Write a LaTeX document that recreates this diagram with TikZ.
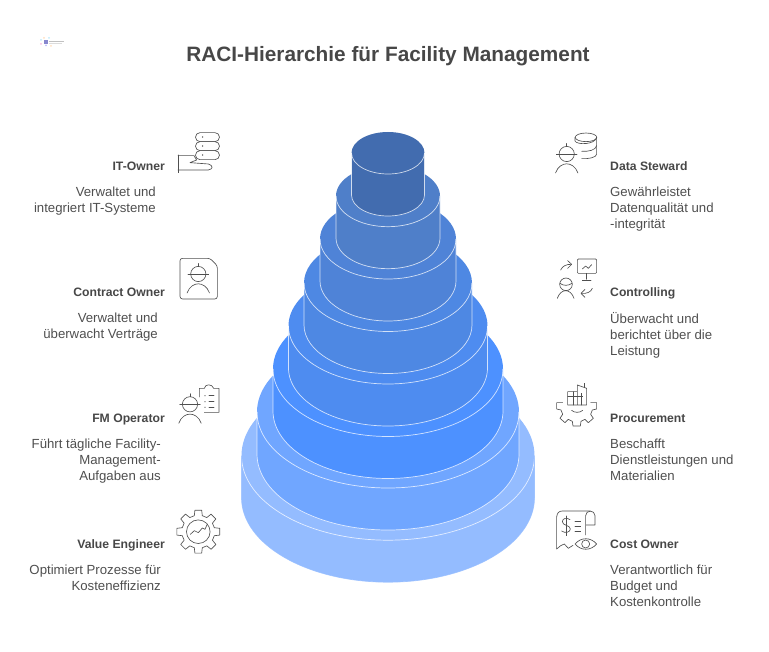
\documentclass[tikz,border=0pt]{standalone}
\usepackage{fontspec}
\setmainfont{Liberation Sans}
\usetikzlibrary{positioning}
\definecolor{tierA}{HTML}{94BCFF}
\definecolor{tierB}{HTML}{70A6FF}
\definecolor{tierC}{HTML}{4D91FF}
\definecolor{tierD}{HTML}{4E8CF0}
\definecolor{tierE}{HTML}{4E88E3}
\definecolor{tierF}{HTML}{4F83D7}
\definecolor{tierG}{HTML}{4F7FC9}
\definecolor{tierH}{HTML}{426CAF}
\definecolor{inkdark}{HTML}{474747}
\definecolor{inktext}{HTML}{4F4F4F}
\tikzset{
    roletitle/.style={anchor=east, inner sep=0pt, text height=10pt, text depth=3pt, font=\fontsize{12.2}{16}\selectfont\bfseries, text=inkdark},
    roletitleR/.style={roletitle, anchor=west},
    roletext/.style={anchor=north east, inner sep=0pt, align=right, font=\fontsize{13.2}{16}\selectfont, text=inktext},
    roletextR/.style={roletext, anchor=north west, align=left},
    iconline/.style={draw=inktext, line width=0.65pt, line join=round, line cap=round},
    iconbox/.style={shift={#1}, x=0.3333pt, y=-0.3333pt},
    hatworker/.pic={
        \draw[iconline] (0,0) circle (7.6);
        \draw[iconline] (-10.3,0) -- (10.3,0);
        \draw[iconline] (0,-10.5) -- (0,-7.6);
        \draw[iconline] (-11.2,19) .. controls (-9,12.5) and (-4,9.8) .. (0,9.8) .. controls (4,9.8) and (9,12.5) .. (11.2,19);
    }
}
\begin{document}
\begin{tikzpicture}[x=1pt, y=-1pt]
    \useasboundingbox (0,0) rectangle (769,652);

    % Stacked cylinders, widest first
    \foreach \rx/\cy/\ry/\tiercol/\wallcol in {
        146.5/455.7/84.5/tierA/tierA, 131/412/76/tierB/white, 115/369/67.5/tierC/white,
        99.5/326/58/tierD/white, 84/283/48.5/tierE/white, 68/239/40/tierF/white,
        52/196/30.7/tierG/white, 36.5/153/21/tierH/white} {
        \path[fill=\tiercol] ({388-\rx},\cy) -- ++(0,42) arc[start angle=180, end angle=360, x radius=\rx pt, y radius=\ry pt] -- ++(0,-42) -- cycle;
        \path[fill=\tiercol] (388,\cy) ellipse[x radius=\rx pt, y radius=\ry pt];
        \draw[white, opacity=0.75, line width=0.7pt] ({388-\rx},\cy) arc[start angle=180, end angle=360, x radius=\rx pt, y radius=\ry pt];
        \draw[\wallcol, opacity=0.75, line width=0.7pt] ({388-\rx},\cy) -- ++(0,42) arc[start angle=180, end angle=360, x radius=\rx pt, y radius=\ry pt] -- ++(0,-42);
    }

    % Title
    \node[inner sep=0pt, text=inkdark, font=\fontsize{20.8}{26}\selectfont\bfseries] (title) at (388,56.5) {RACI-Hierarchie für Facility Management};

    % Left column
    \node[roletitle] (itowner) at (165,167) {IT-Owner};
    \node[roletext] (itownertext) at (156,186.5) {Verwaltet und\\integriert IT-Systeme};
    \node[roletitle] (contract) at (165,293) {Contract Owner};
    \node[roletext] (contracttext) at (158,312.5) {Verwaltet und\\überwacht Verträge};
    \node[roletitle] (operator) at (165,419) {FM Operator};
    \node[roletext] (operatortext) at (161,438.5) {Führt tägliche Facility-\\Management-\\Aufgaben aus};
    \node[roletitle] (engineer) at (165,545) {Value Engineer};
    \node[roletext] (engineertext) at (161,564.5) {Optimiert Prozesse für\\Kosteneffizienz};

    % Right column
    \node[roletitleR] (steward) at (610,167) {Data Steward};
    \node[roletextR] (stewardtext) at (610,186.5) {Gewährleistet\\Datenqualität und\\-integrität};
    \node[roletitleR] (controlling) at (610,293) {Controlling};
    \node[roletextR] (controllingtext) at (610,312.5) {Überwacht und\\berichtet über die\\Leistung};
    \node[roletitleR] (procurement) at (610,419) {Procurement};
    \node[roletextR] (procurementtext) at (610,438.5) {Beschafft\\Dienstleistungen und\\Materialien};
    \node[roletitleR] (costowner) at (610,545) {Cost Owner};
    \node[roletextR] (costownertext) at (610,564.5) {Verantwortlich für\\Budget und\\Kostenkontrolle};

    % Logo
    \foreach \lx/\ly/\lcol in {41/40/cyan, 44/38/orange, 46/45.5/blue, 41/44/magenta, 49/38/cyan, 51/46/orange} {
        \fill[\lcol, opacity=0.25] (\lx,\ly) circle (1);
    }
    \fill[inktext!50!blue!55] (44,40.5) rectangle (48,44);
    \fill[inktext!35] (49,41) rectangle (64,42.5);
    \fill[inktext!20] (49,43.2) rectangle (62,44.2);

    % IT-Owner icon
    \begin{scope}[iconbox={(20,20)}]
        \foreach \sy in {338,365,392} {
            \draw[iconline] (540,\sy) -- (585,\sy) arc[start angle=90, end angle=-90, radius=4.5pt] -- (540,\sy+27) arc[start angle=270, end angle=90, radius=4.5pt] -- cycle;
            \fill[inktext] (548,\sy+13) circle (0.8pt);
        }
        \draw[iconline] (474,405) -- (474,458);
        \draw[iconline] (474,407) -- (522,407) -- (530,420) -- (510,428) -- (565,432) .. controls (580,436) and (580,448) .. (565,450) -- (474,450);
    \end{scope}

    % Contract Owner icon
    \begin{scope}[iconbox={(160,250)}]
        \draw[iconline, rounded corners=2.5pt] (60,25) -- (150,25) -- (172,47) -- (172,147) -- (60,147) -- cycle;
    \end{scope}
    \pic at (198.3,274) {hatworker};

    % FM Operator icon
    \pic at (190,404.3) {hatworker};
    \begin{scope}[iconbox={(165,375)}]
        \draw[iconline] (103,66) -- (103,40) -- (118,40) .. controls (120,26) and (142,26) .. (146,40) -- (162,40) -- (162,112) -- (118,112);
        \foreach \dy in {62,80,97} {
            \fill[inktext] (120,\dy) circle (0.6pt);
            \draw[iconline] (132,\dy) -- (147,\dy);
        }
    \end{scope}

    % Value Engineer icon
    \begin{scope}[shift={(198.3,531.7)}]
        \draw[iconline] (-9:21.7) \foreach \a in {0,45,...,315} {
            -- ({\a-9}:21.7) -- ({\a+9}:21.7) -- ({\a+14}:16.5) -- ({\a+31}:16.5) -- ({\a+36}:21.7)
        } -- cycle;
        \draw[iconline] (0,0) circle (11.8);
    \end{scope}
    \begin{scope}[iconbox={(165,500)}]
        \draw[iconline] (76,103) -- (88,92) -- (100,98) -- (112,84) -- (120,88) -- (127,72);
    \end{scope}

    % Data Steward icon
    \pic at (566.7,154) {hatworker};
    \begin{scope}[iconbox={(545,125)}]
        \draw[iconline] (123,37) ellipse[x radius=10.8pt, y radius=4.3pt];
        \draw[iconline] (90,37) -- (90,48) .. controls (95,60) and (150,60) .. (155,37);
        \draw[iconline] (155,37) -- (155,88) .. controls (153,98) and (130,102) .. (110,101);
        \draw[iconline] (155,62) .. controls (152,76) and (130,80) .. (110,79);
    \end{scope}

    % Controlling icon
    \begin{scope}[iconbox={(545,250)}]
        \draw[iconline, rounded corners=1pt] (97,27) rectangle (155,70);
        \draw[iconline] (112,57) -- (122,48) -- (130,55) -- (140,44);
        \draw[iconline] (125,70) -- (125,88);
        \draw[iconline] (112,90) -- (138,90);
        \draw[iconline] (47,60) .. controls (52,48) and (65,42) .. (80,43);
        \draw[iconline] (68,32) -- (80,43) -- (68,55);
        \draw[iconline] (142,115) .. controls (138,126) and (125,132) .. (109,130);
        \draw[iconline] (120,118) -- (108,130) -- (120,142);
        \draw[iconline] (63,103) ellipse[x radius=6.3pt, y radius=6.3pt];
        \draw[iconline] (45,100) .. controls (55,108) and (70,108) .. (81,100);
        \draw[iconline] (37,145) .. controls (42,130) and (52,122) .. (62,122) .. controls (72,122) and (82,130) .. (87,145);
    \end{scope}

    % Procurement icon
    \begin{scope}[iconbox={(545,380)}]
        \draw[iconline] (97,35) -- (68,35) -- (68,75) -- (125,75) -- (125,25) -- (97,15) -- (97,75);
        \draw[iconline] (68,48) -- (113,48);
        \draw[iconline] (85,35) -- (85,75);
        \draw[iconline] (108,40) -- (108,75);
        \draw[iconline] (119,10) -- (119,23);
        \draw[iconline] (80,91) .. controls (88,99) and (105,99) .. (113,91);
        \draw[iconline] (53,68) -- (35,68) -- (35,87) -- (48,90) -- (53,103) -- (45,115) -- (60,128) -- (70,118) -- (82,124) -- (84,138) -- (106,138) -- (108,124) -- (120,118) -- (130,128) -- (145,115) -- (137,103) -- (142,90) -- (155,87) -- (155,68) -- (137,68);
    \end{scope}

    % Cost Owner icon
    \begin{scope}[iconbox={(545,505)}]
        \draw[iconline] (35,132) -- (35,36) .. controls (36,24) and (42,18) .. (52,18) -- (136,18);
        \draw[iconline] (122,90) -- (122,32) .. controls (122,14) and (150,14) .. (150,32) -- (150,60) -- (122,60);
        \draw[iconline] (35,132) -- (47,122) -- (58,117) -- (70,130) -- (84,121);
        \draw[iconline] (75,44) .. controls (66,36) and (52,40) .. (52,50) .. controls (52,62) and (76,60) .. (76,72) .. controls (76,82) and (60,86) .. (50,78);
        \draw[iconline] (63,33) -- (63,92);
        \foreach \ey in {48,63,79} {
            \draw[iconline] (90,\ey) -- (107,\ey);
        }
        \draw[iconline] (90,117) .. controls (108,96) and (137,96) .. (155,117) .. controls (137,138) and (108,138) .. (90,117) -- cycle;
        \draw[iconline] (122,117) circle (4pt);
    \end{scope}
\end{tikzpicture}
\end{document}
